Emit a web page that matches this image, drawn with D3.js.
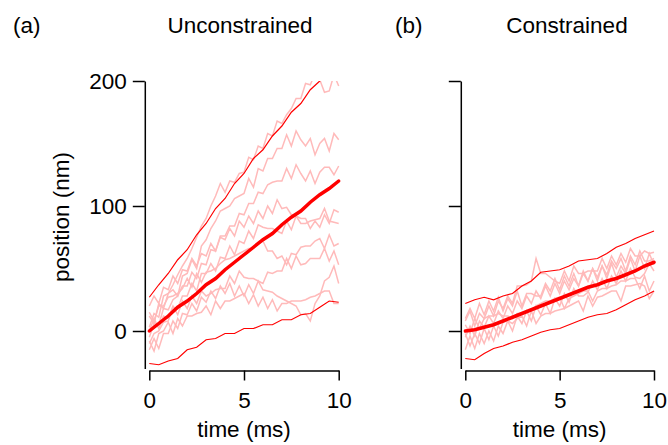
<!DOCTYPE html>
<html>
<head>
<meta charset="utf-8">
<script src="https://cdn.jsdelivr.net/npm/d3@7"></script>
<style>
  body { margin: 0; background: #fff; }
  svg { font-family: "Liberation Sans", Arial, sans-serif; }
  .axis path, .axis line { stroke: #000; stroke-width: 1.5; }
  .axis text { font-size: 22.5px; fill: #000; }
</style>
</head>
<body>
<div id="chart"></div>
<script>
// sample times (ms)
const timeFine = [0, 0.25, 0.5, 0.75, 1, 1.25, 1.5, 1.75, 2, 2.25, 2.5, 2.75, 3, 3.25, 3.5, 3.75, 4, 4.25, 4.5, 4.75,
  5, 5.25, 5.5, 5.75, 6, 6.25, 6.5, 6.75, 7, 7.25, 7.5, 7.75, 8, 8.25, 8.5, 8.75, 9, 9.25, 9.5, 9.75, 10];
const timeCoarse = [0, 0.5, 1, 1.5, 2, 2.5, 3, 3.5, 4, 4.5, 5, 5.5, 6, 6.5, 7, 7.5, 8, 8.5, 9, 9.5, 10];

// (a) unconstrained: single traces (nm)
const tracesA = [
  [3, 14, 11, 28, 30, 37, 45, 52, 58, 66, 75, 84, 90, 100, 108, 118, 111, 120, 119, 126, 127, 139, 137, 148, 146, 158, 156, 168, 166, 173, 178, 186, 186, 198, 197, 206, 201, 191, 192, 205, 196],
  [12, 6, 22, 18, 30, 33, 28, 44, 46, 57, 50, 68, 73, 82, 88, 96, 98, 100, 106, 108, 110, 122, 115, 130, 128, 138, 138, 146, 146, 157, 148, 160, 153, 148, 154, 141, 150, 154, 144, 158, 153],
  [-5, 6, 5, 18, 17, 25, 28, 36, 36, 47, 42, 54, 53, 65, 64, 76, 76, 84, 84, 94, 93, 102, 102, 111, 110, 117, 119, 120, 120, 130, 122, 133, 126, 120, 128, 118, 127, 131, 131, 125, 132],
  [20, 28, 22, 35, 33, 44, 38, 49, 48, 58, 52, 62, 60, 70, 64, 75, 73, 82, 76, 88, 83, 92, 86, 96, 90, 100, 94, 105, 98, 99, 93, 92, 90, 90, 82, 88, 83, 93, 86, 97, 95],
  [-10, -2, 0, 7, 8, 19, 18, 28, 28, 38, 32, 46, 46, 54, 48, 59, 58, 68, 61, 72, 70, 80, 74, 85, 83, 82, 82, 80, 78, 88, 81, 92, 86, 86, 88, 89, 90, 98, 88, 87, 86],
  [15, 8, 20, 20, 27, 28, 30, 34, 42, 35, 46, 39, 47, 48, 50, 54, 57, 58, 60, 62, 64, 66, 66, 70, 72, 64, 64, 58, 60, 53, 62, 61, 67, 68, 68, 72, 74, 66, 77, 68, 70],
  [0, 10, 2, 12, 10, 20, 13, 24, 18, 28, 22, 32, 28, 30, 33, 34, 34, 44, 38, 48, 43, 42, 42, 40, 38, 47, 46, 48, 48, 58, 50, 60, 53, 54, 58, 58, 58, 66, 56, 64, 53],
  [-15, -6, -14, -2, -2, 8, 2, 14, 13, 22, 16, 27, 23, 32, 26, 36, 30, 38, 28, 36, 28, 37, 30, 40, 33, 32, 31, 28, 26, 24, 22, 20, 13, 14, 8, 22, 28, 40, 43, 52, 38],
  [-8, -16, -2, 0, 7, -2, 10, 4, 12, 12, 14, 15, 20, 13, 24, 18, 24, 24, 26, 28, 30, 22, 29, 20, 27, 18, 25, 16, 22, 22, 24, 24, 24, 25, 27, 28, 30, 32, 32, 22, 22]
];
const meanA = [0, 6, 12, 19, 24, 30, 37, 42, 49, 55, 61, 67, 73, 78, 85, 91, 96, 103, 109, 114, 120];
const upperA = [27, 37, 46, 57, 65, 77, 86, 98, 106, 118, 126, 138, 145, 156, 164, 175, 182, 193, 200, 211, 218];
const lowerA = [-26, -27, -24, -22, -15, -13, -7, -6, -2, -2, 2, 2, 5, 5, 9, 9, 13, 14, 19, 24, 23];

// (b) constrained
const tracesB = [
  [8, 16, 4, 14, 10, 20, 12, 24, 18, 28, 22, 36, 36, 37, 40, 58, 46, 46, 43, 40, 38, 48, 40, 52, 46, 46, 48, 48, 48, 58, 50, 60, 53, 62, 55, 66, 60, 60, 64, 62, 63],
  [-5, 4, -4, 8, 3, 12, 6, 16, 10, 20, 14, 24, 18, 28, 22, 32, 26, 36, 28, 38, 30, 40, 33, 42, 36, 46, 40, 50, 43, 52, 45, 56, 50, 58, 48, 60, 53, 64, 56, 56, 58],
  [-15, -4, -14, -2, -10, 0, -8, 4, -2, 8, 0, 12, 6, 16, 8, 20, 13, 22, 14, 26, 20, 30, 23, 34, 28, 28, 31, 40, 33, 42, 34, 44, 38, 48, 40, 50, 43, 42, 46, 54, 48],
  [5, -2, 10, 2, 10, 12, 12, 14, 12, 12, 10, 14, 14, 16, 17, 20, 22, 24, 24, 26, 27, 18, 26, 28, 30, 32, 32, 24, 32, 34, 34, 36, 37, 40, 40, 42, 42, 34, 44, 32, 40],
  [-2, -12, -2, -10, 2, -7, 4, -4, 7, 8, 6, 10, 12, 4, 16, 6, 12, 14, 14, 16, 17, 18, 20, 22, 24, 16, 28, 20, 27, 28, 30, 32, 32, 24, 36, 36, 37, 38, 36, 26, 32],
  [10, 18, 10, 22, 13, 24, 16, 27, 16, 26, 20, 32, 20, 30, 30, 28, 28, 38, 32, 42, 33, 44, 36, 46, 36, 48, 40, 50, 40, 52, 42, 54, 43, 52, 46, 58, 48, 60, 50, 62, 53]
];
const meanB = [0, 1, 3, 5, 8, 11, 14, 17, 20, 23, 26, 29, 32, 35, 37, 40, 42, 45, 48, 52, 55];
const upperB = [22, 25, 27, 25, 28, 30, 36, 40, 47, 48, 49, 52, 56, 57, 58, 62, 67, 70, 74, 77, 80];
const lowerB = [-22, -23, -18, -14, -12, -9, -7, -4, -1, 1, 2, 5, 8, 11, 13, 14, 17, 21, 25, 28, 32];

const panelLabels = ["(a)", "(b)"];
const panelTitles = ["Unconstrained", "Constrained"];
const xTicks = [0, 5, 10];
const yTicks = [0, 100, 200];

const width = 668, height = 445;
const svg = d3.select("#chart").append("svg")
    .attr("width", width)
    .attr("height", height);

const y = d3.scaleLinear().domain([-30, 200]).range([368.5, 81]);

const panels = [
    { left: 149.3, right: 338.7, traces: tracesA, mean: meanA, upper: upperA, lower: lowerA,
      yLabels: true, labelX: 13, titleX: 240 },
    { left: 465.3, right: 654, traces: tracesB, mean: meanB, upper: upperB, lower: lowerB,
      yLabels: false, labelX: 395, titleX: 567 }
];

panels.forEach((p, i) => {
    const x = d3.scaleLinear().domain([0, 10]).range([p.left, p.right]);
    const g = svg.append("g");

    const clipId = "clip" + i;
    g.append("clipPath").attr("id", clipId)
      .append("rect")
        .attr("x", p.left - 2)
        .attr("y", y(200))
        .attr("width", p.right - p.left + 4)
        .attr("height", y(-30) - y(200));

    const plot = g.append("g").attr("clip-path", `url(#${clipId})`);

    const fineLine = d3.line()
        .x((d, j) => x(timeFine[j]))
        .y(d => y(d));
    const coarseLine = d3.line()
        .x((d, j) => x(timeCoarse[j]))
        .y(d => y(d));

    plot.selectAll(".trace")
        .data(p.traces)
        .enter()
        .append("path")
        .attr("class", "trace")
        .attr("d", fineLine)
        .attr("fill", "none")
        .attr("stroke", "#ffbaba")
        .attr("stroke-width", 1.5);

    [p.upper, p.lower].forEach(arr => {
        plot.append("path")
            .attr("d", coarseLine(arr))
            .attr("fill", "none")
            .attr("stroke", "#ff0000")
            .attr("stroke-width", 1.2);
    });

    plot.append("path")
        .attr("d", coarseLine(p.mean))
        .attr("fill", "none")
        .attr("stroke", "#ff0000")
        .attr("stroke-width", 3.5)
        .attr("stroke-linecap", "round");

    // y axis, offset a little left of x = 0
    const yAxis = d3.axisLeft(y)
        .tickValues(yTicks)
        .tickSizeInner(12)
        .tickSizeOuter(0)
        .tickPadding(6);
    if (!p.yLabels) yAxis.tickFormat("");
    g.append("g")
        .attr("class", "axis")
        .attr("transform", `translate(${p.left - 4.5},0)`)
        .call(yAxis);

    // x axis, a little below the y range
    const xAxis = d3.axisBottom(x)
        .tickValues(xTicks)
        .tickSizeInner(10)
        .tickSizeOuter(0)
        .tickPadding(12);
    g.append("g")
        .attr("class", "axis")
        .attr("transform", `translate(0,${y(-30) + 2})`)
        .call(xAxis);

    g.append("text")
        .attr("x", (p.left + p.right) / 2)
        .attr("y", 437)
        .attr("text-anchor", "middle")
        .style("font-size", "22.5px")
        .text("time (ms)");

    g.append("text")
        .attr("x", p.labelX)
        .attr("y", 33)
        .style("font-size", "22.5px")
        .text(panelLabels[i]);

    g.append("text")
        .attr("x", p.titleX)
        .attr("y", 33)
        .attr("text-anchor", "middle")
        .style("font-size", "22.5px")
        .text(panelTitles[i]);
});

svg.append("text")
    .attr("transform", "translate(69,217) rotate(-90)")
    .attr("text-anchor", "middle")
    .style("font-size", "22.5px")
    .text("position (nm)");
</script>
</body>
</html>
